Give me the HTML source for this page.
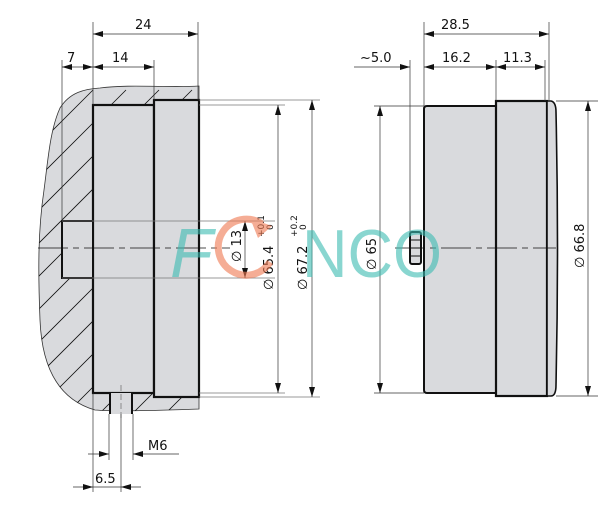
<!DOCTYPE html>
<html><head><meta charset="utf-8"><style>
html,body{margin:0;padding:0;background:#fff;}
svg{display:block;font-family:"DejaVu Sans","Liberation Sans",sans-serif;}
</style></head><body>
<svg width="612" height="507" viewBox="0 0 612 507" xmlns="http://www.w3.org/2000/svg">
<defs>
<marker id="a" viewBox="0 0 10 6" refX="10" refY="3" markerWidth="10" markerHeight="6" orient="auto-start-reverse" markerUnits="userSpaceOnUse"><path d="M0,0 L10,3 L0,6 z" fill="#111"/></marker>
<clipPath id="hc"><path d="M100,88 C130,84 170,88 199,86 L199,409 C170,410 120,412 95,410 C60,400 42,370 40,320 C38,270 38,230 44,190 C48,160 50,130 60,108 C70,92 85,89 100,88 z"/></clipPath>
</defs>
<path d="M100,88 C130,84 170,88 199,86 L199,409 C170,410 120,412 95,410 C60,400 42,370 40,320 C38,270 38,230 44,190 C48,160 50,130 60,108 C70,92 85,89 100,88 z" fill="#d9dadd" stroke="#333" stroke-width="0.8"/>
<g clip-path="url(#hc)" stroke="#111" stroke-width="0.8">
<path d="M-290,440 L60,90 M-257,440 L93,90 M-224,440 L126,90 M-191,440 L159,90 M-158,440 L192,90 M-125,440 L225,90 M-92,440 L258,90 M-59,440 L291,90 M-26,440 L324,90 M7,440 L357,90 M40,440 L390,90 M73,440 L423,90 M106,440 L456,90 M139,440 L489,90 M172,440 L522,90 M205,440 L555,90 M238,440 L588,90"/>
</g>
<rect x="93" y="105" width="61" height="288" fill="#d9dadd" stroke="#111" stroke-width="2.2"/>
<rect x="154" y="100" width="45" height="297" fill="#d9dadd" stroke="#111" stroke-width="2.2"/>
<rect x="62" y="221" width="31" height="57" fill="#d9dadd" stroke="#111" stroke-width="2"/>
<rect x="109" y="393" width="24" height="21" fill="#d9dadd" stroke="none"/>
<line x1="110" y1="393" x2="110" y2="414" stroke="#111" stroke-width="2"/>
<line x1="132" y1="393" x2="132" y2="414" stroke="#111" stroke-width="2"/>
<g stroke="#777" stroke-width="0.7">
<line x1="62" y1="221" x2="275" y2="221"/><line x1="62" y1="278" x2="275" y2="278"/>
<line x1="199" y1="100" x2="320" y2="100"/><line x1="199" y1="105" x2="285" y2="105"/>
<line x1="199" y1="397" x2="320" y2="397"/><line x1="199" y1="393" x2="285" y2="393"/>
</g>
<line x1="38" y1="248" x2="230" y2="248" stroke="#111" stroke-width="0.8" stroke-dasharray="30,5,6,5"/>
<line x1="121" y1="385" x2="121" y2="420" stroke="#555" stroke-width="0.6" stroke-dasharray="6,3"/>
<g stroke="#333" stroke-width="0.7" fill="none">
<line x1="93" y1="22" x2="93" y2="105"/><line x1="198" y1="22" x2="198" y2="100"/>
<line x1="62" y1="60" x2="62" y2="221"/><line x1="154" y1="60" x2="154" y2="100"/>
<line x1="93" y1="34" x2="198" y2="34" marker-start="url(#a)" marker-end="url(#a)"/>
<line x1="62" y1="67" x2="93" y2="67" marker-start="url(#a)" marker-end="url(#a)"/>
<line x1="93" y1="67" x2="154" y2="67" marker-start="url(#a)" marker-end="url(#a)"/>
<line x1="93" y1="393" x2="93" y2="492"/><line x1="109" y1="414" x2="109" y2="460"/>
<line x1="133" y1="414" x2="133" y2="460"/><line x1="121" y1="414" x2="121" y2="492"/>
<line x1="88" y1="454" x2="109" y2="454" marker-end="url(#a)"/>
<line x1="179" y1="454" x2="133" y2="454" marker-end="url(#a)"/>
<line x1="73" y1="487" x2="93" y2="487" marker-end="url(#a)"/>
<line x1="141" y1="487" x2="121" y2="487" marker-end="url(#a)"/>
<line x1="93" y1="487" x2="121" y2="487"/>
<line x1="245" y1="221" x2="245" y2="278" marker-start="url(#a)" marker-end="url(#a)"/>
<line x1="278" y1="105" x2="278" y2="393" marker-start="url(#a)" marker-end="url(#a)"/>
<line x1="312" y1="100" x2="312" y2="397" marker-start="url(#a)" marker-end="url(#a)"/>
</g>
<g font-size="13" fill="#111">
<text x="135" y="29">24</text><text x="67" y="62">7</text><text x="112" y="62">14</text>
<text x="148" y="450">M6</text><text x="95" y="483">6.5</text>
<text transform="translate(241,262) rotate(-90)">∅ 13</text>
<text transform="translate(273,290) rotate(-90)">∅ 65.4</text>
<text transform="translate(307,290) rotate(-90)">∅ 67.2</text>
<text transform="translate(376,270) rotate(-90)">∅ 65</text>
<text transform="translate(584,268) rotate(-90)">∅ 66.8</text>
<text x="441" y="29">28.5</text><text x="360" y="62">~5.0</text>
<text x="442" y="62">16.2</text><text x="503" y="62">11.3</text>
</g>
<g font-size="9" fill="#111">
<text transform="translate(264,237) rotate(-90)">+0.1</text><text transform="translate(273,230) rotate(-90)">0</text>
<text transform="translate(297,237) rotate(-90)">+0.2</text><text transform="translate(306,230) rotate(-90)">0</text>
</g>
<path d="M424,109 Q424,106 427,106 L496,106 L496,393 L427,393 Q424,393 424,390 z" fill="#d9dadd" stroke="#111" stroke-width="2"/>
<rect x="496" y="101" width="51" height="295" fill="#d9dadd" stroke="#111" stroke-width="2.2"/>
<path d="M547,101 L551,101 Q556,102 556,112 Q559,248 556,385 Q556,396 551,396 L547,396 z" fill="#d9dadd" stroke="#111" stroke-width="1.6"/>
<rect x="410" y="232" width="11" height="32" rx="2" fill="#d9dadd" stroke="#111" stroke-width="2"/>
<line x1="411" y1="240" x2="420" y2="240" stroke="#111"/><line x1="411" y1="248" x2="420" y2="248" stroke="#111"/><line x1="411" y1="256" x2="420" y2="256" stroke="#111"/>
<line x1="395" y1="248" x2="556" y2="248" stroke="#111" stroke-width="0.8" stroke-dasharray="30,5,6,5"/>
<g stroke="#333" stroke-width="0.7" fill="none">
<line x1="424" y1="22" x2="424" y2="106"/><line x1="549" y1="22" x2="549" y2="101"/>
<line x1="410" y1="60" x2="410" y2="232"/><line x1="496" y1="60" x2="496" y2="101"/>
<line x1="545" y1="60" x2="545" y2="101"/>
<line x1="424" y1="34" x2="549" y2="34" marker-start="url(#a)" marker-end="url(#a)"/>
<line x1="354" y1="67" x2="410" y2="67" marker-end="url(#a)"/>
<line x1="424" y1="67" x2="496" y2="67" marker-start="url(#a)" marker-end="url(#a)"/>
<line x1="496" y1="67" x2="545" y2="67" marker-start="url(#a)" marker-end="url(#a)"/>
<line x1="374" y1="106" x2="424" y2="106"/><line x1="374" y1="393" x2="424" y2="393"/>
<line x1="556" y1="101" x2="598" y2="101"/><line x1="556" y1="396" x2="598" y2="396"/>
<line x1="380" y1="106" x2="380" y2="393" marker-start="url(#a)" marker-end="url(#a)"/>
<line x1="588" y1="101" x2="588" y2="396" marker-start="url(#a)" marker-end="url(#a)"/>
</g>
<g opacity="0.6">
<text x="170" y="277" font-size="70" font-style="italic" fill="#3cbcb2" font-family="Liberation Sans,sans-serif">F</text>
<path d="M262,224 A28,28 0 1 0 270,262" fill="none" stroke="#f07850" stroke-width="7"/>
<path d="M250,218 L272,226 L258,238 z" fill="#f07850"/>
<text x="302" y="277" font-size="68" fill="#3cbcb2" font-family="Liberation Sans,sans-serif" textLength="140" lengthAdjust="spacingAndGlyphs">NCO</text>
</g>
</svg>
</body></html>
